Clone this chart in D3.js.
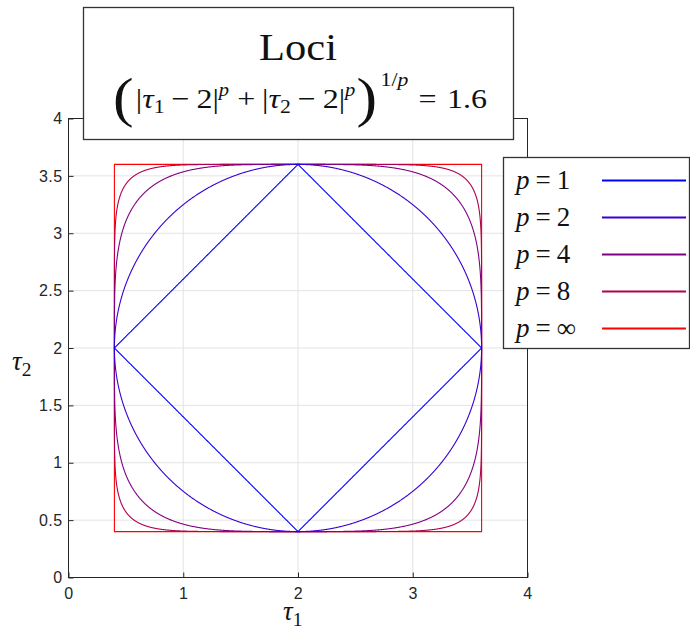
<!DOCTYPE html>
<html>
<head>
<meta charset="utf-8">
<script src="https://cdn.jsdelivr.net/npm/d3@7"></script>
<style>
  html, body { margin: 0; padding: 0; background: #fff; }
  svg { display: block; }
</style>
</head>
<body>
<svg id="chart" width="690" height="632"></svg>
<script>
// Unit-ball exponents, labels and line colours
const pValues = [1, 2, 4, 8, Infinity];
const pLabels = ["1", "2", "4", "8", "\u221E"];
const pColors = ["#0000ff", "#3a00d2", "#7f0082", "#b0004f", "#ff0000"];
// Locus centre and radius
const center = [2, 2];
const radius = 1.6;
// Axis ticks
const xTicks = [0, 1, 2, 3, 4];
const yTicks = [0, 0.5, 1, 1.5, 2, 2.5, 3, 3.5, 4];

const svg = d3.select("#chart");
const serif = "Liberation Serif";
const sans = "Liberation Sans";
const axisColor = "#262626";

const x = d3.scaleLinear().domain([0, 4]).range([68.5, 527.5]);
const y = d3.scaleLinear().domain([0, 4]).range([577.5, 118.5]);

// Grid
const grid = svg.append("g");
grid.selectAll(".gx").data(xTicks).join("line")
  .attr("x1", d => x(d)).attr("x2", d => x(d))
  .attr("y1", y(0)).attr("y2", y(4))
  .attr("stroke", "#e3e3e3").attr("stroke-width", 1);
grid.selectAll(".gy").data(yTicks).join("line")
  .attr("y1", d => y(d)).attr("y2", d => y(d))
  .attr("x1", x(0)).attr("x2", x(4))
  .attr("stroke", "#e3e3e3").attr("stroke-width", 1);

// Axes (inward ticks, boxed frame)
const xAxis = d3.axisBottom(x).tickValues(xTicks).tickFormat(d3.format("d"))
  .tickSizeInner(-5).tickSizeOuter(0).tickPadding(10);
const yAxis = d3.axisLeft(y).tickValues(yTicks).tickFormat(d => d)
  .tickSizeInner(-5).tickSizeOuter(0).tickPadding(6);

const gx = svg.append("g").attr("transform", `translate(0,${y(0)})`).call(xAxis);
const gy = svg.append("g").attr("transform", `translate(${x(0)},0)`).call(yAxis);
[gx, gy].forEach(g => {
  g.attr("font-family", sans).attr("font-size", 16);
  g.selectAll("path.domain").remove();
  g.selectAll("line").attr("stroke", axisColor);
  g.selectAll("text").attr("fill", axisColor).attr("letter-spacing", 0.4);
});

svg.append("rect")
  .attr("x", x(0)).attr("y", y(4))
  .attr("width", x(4) - x(0)).attr("height", y(0) - y(4))
  .attr("fill", "none").attr("stroke", axisColor).attr("stroke-width", 1);

// Loci |t1-c|^p + |t2-c|^p = r^p, traced parametrically
function locus(p) {
  const n = 2400;
  const pts = [];
  for (let i = 0; i <= n; i++) {
    const t = (i / n) * 2 * Math.PI;
    const c = Math.cos(t), s = Math.sin(t);
    let u, v;
    if (p === Infinity) {
      const m = Math.max(Math.abs(c), Math.abs(s));
      u = c / m; v = s / m;
    } else {
      u = Math.sign(c) * Math.pow(Math.abs(c), 2 / p);
      v = Math.sign(s) * Math.pow(Math.abs(s), 2 / p);
    }
    pts.push([center[0] + radius * u, center[1] + radius * v]);
  }
  return pts;
}

const line = d3.line().x(d => x(d[0])).y(d => y(d[1]));
const curves = svg.append("g");
pValues.slice().reverse().forEach((p, k) => {
  const i = pValues.length - 1 - k;
  curves.append("path")
    .attr("d", line(locus(p)))
    .attr("fill", "none")
    .attr("stroke", pColors[i])
    .attr("stroke-width", 1.1)
    .attr("stroke-linejoin", "miter");
});

// Axis labels
function sym(g, xx, yy, base, sub, size) {
  const t = g.append("text").attr("x", xx).attr("y", yy)
    .attr("font-family", serif).attr("font-size", size).attr("fill", "#111");
  t.append("tspan").attr("font-style", "italic").text(base);
  t.append("tspan").attr("dy", size * 0.22).attr("font-size", size * 0.72).text(sub);
  return t;
}
sym(svg, 283, 620, "\u03C4", "1", 27);
sym(svg, 12, 370, "\u03C4", "2", 27);

// Title box
const tb = svg.append("g");
tb.append("rect").attr("x", 83.5).attr("y", 7.5).attr("width", 430).attr("height", 132)
  .attr("fill", "#fff").attr("stroke", "#333").attr("stroke-width", 1.3);
tb.append("text").attr("x", 282).attr("y", 60).attr("text-anchor", "middle")
  .attr("font-family", serif).attr("font-size", 38).attr("fill", "#111")
  .attr("transform", "translate(282,0) scale(1.12,1) translate(-282,0)")
  .attr("x", 282 + 16 / 1.12).text("Loci");

// Formula laid out piece by piece
const pieces = [
  { t: "(", size: 54, dy: 8, gap: 2 },
  { t: "|", size: 28 },
  { t: "\u03C4", size: 28, it: true },
  { t: "1", size: 19, dy: 5 },
  { t: "\u2212", size: 28, pad: 6 },
  { t: "2|", size: 28 },
  { t: "p", size: 18, it: true, dy: -12, gap: 1 },
  { t: "+", size: 28, pad: 6 },
  { t: "|", size: 28 },
  { t: "\u03C4", size: 28, it: true },
  { t: "2", size: 19, dy: 5 },
  { t: "\u2212", size: 28, pad: 6 },
  { t: "2|", size: 28 },
  { t: "p", size: 18, it: true, dy: -12, gap: 1 },
  { t: ")", size: 54, dy: 8, gap: 3 },
  { t: "1/", size: 19, dy: -22 },
  { t: "p", size: 19, it: true, dy: -22 },
  { t: "=", size: 28, pad: 9 },
  { t: "1.6", size: 28 }
];
const fg = tb.append("g");
let cx = 0;
pieces.forEach(pc => {
  cx += (pc.pad || 0);
  const t = fg.append("text").attr("x", cx).attr("y", 108 + (pc.dy || 0))
    .attr("font-family", serif).attr("font-size", pc.size)
    .attr("font-style", pc.it ? "italic" : "normal")
    .attr("fill", "#111").text(pc.t);
  cx += t.node().getComputedTextLength() + (pc.pad || 0) + (pc.gap || 0);
});
const fx0 = 113, fx1 = 487;
fg.attr("transform", `translate(${fx0},0) scale(${(fx1 - fx0) / cx},1)`);

// Legend
const lg = svg.append("g");
lg.append("rect").attr("x", 503.5).attr("y", 157.5).attr("width", 186).attr("height", 191)
  .attr("fill", "#fff").attr("stroke", "#333").attr("stroke-width", 1.3);
pValues.forEach((p, i) => {
  const yy = 180.5 + i * 37;
  const t = lg.append("text").attr("x", 516).attr("y", yy + 8)
    .attr("font-family", serif).attr("font-size", 27).attr("fill", "#111");
  t.append("tspan").attr("font-style", "italic").text("p");
  t.append("tspan").attr("dx", 6).text("=");
  t.append("tspan").attr("dx", 6).text(pLabels[i]);
  lg.append("line").attr("x1", 602).attr("x2", 686).attr("y1", yy).attr("y2", yy)
    .attr("stroke", pColors[i]).attr("stroke-width", 2);
});
</script>
</body>
</html>
